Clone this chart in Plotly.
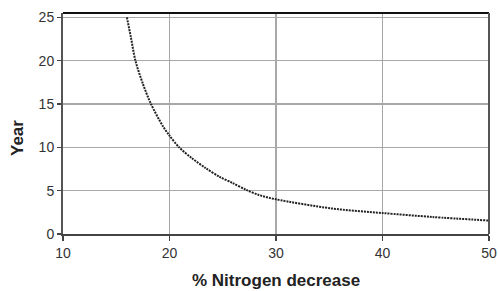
import plotly.graph_objects as go

nitrogen_decrease = [16.0, 16.36, 16.8, 17.48, 18.26, 19.4, 20.0, 20.9, 22.1, 23.4, 24.7, 25.9, 27.2, 28.4, 30.0, 35.2, 40.0, 44.7, 50.0]
years = [25.0, 22.8, 20.0, 17.4, 15.0, 12.4, 11.35, 10.0, 8.75, 7.6, 6.6, 5.9, 5.1, 4.5, 4.0, 2.95, 2.42, 1.96, 1.55]
x_ticks = [10, 20, 30, 40, 50]
y_ticks = [0, 5, 10, 15, 20, 25]

fig = go.Figure()
fig.add_trace(go.Scatter(
    x=nitrogen_decrease, y=years, mode="lines",
    line=dict(color="#222222", width=2, dash="2px,1px", shape="spline", smoothing=0.8),
    showlegend=False, hoverinfo="skip",
))

font_family = "Liberation Sans, Arial, sans-serif"
fig.update_layout(
    width=498, height=291,
    margin=dict(l=63, r=9, t=13, b=57, autoexpand=False),
    paper_bgcolor="white", plot_bgcolor="white",
    font=dict(family=font_family, size=14, color="#333333"),
    xaxis=dict(
        range=[10, 50], tickvals=x_ticks, ticktext=[str(v) for v in x_ticks],
        showgrid=True, gridcolor="#a8a8a8", gridwidth=1.6,
        showline=True, linecolor="#444444", linewidth=2, mirror=False,
        ticks="outside", ticklen=5, tickcolor="#444444", tickwidth=1.5,
        zeroline=False, automargin=False,
        tickfont=dict(size=14, color="#333333"),
    ),
    yaxis=dict(
        range=[0, 25.5], tickvals=y_ticks, ticktext=[str(v) for v in y_ticks],
        showgrid=True, gridcolor="#a8a8a8", gridwidth=1.6,
        showline=True, linecolor="#555555", linewidth=2,
        ticks="outside", ticklen=4, tickcolor="#444444", tickwidth=1.5,
        zeroline=False, automargin=False,
        tickfont=dict(size=14, color="#333333"),
    ),
    shapes=[
        dict(type="line", xref="paper", yref="paper", x0=0, x1=1, y0=1, y1=1,
             line=dict(color="#111111", width=2)),
        dict(type="line", xref="paper", yref="paper", x0=1, x1=1, y0=0, y1=1,
             line=dict(color="#555555", width=2)),
    ],
    annotations=[
        dict(text="<b>% Nitrogen decrease</b>", xref="paper", yref="paper",
             x=0.5, y=-(280 - 234) / 221, xanchor="center", yanchor="middle",
             showarrow=False, font=dict(size=17, color="#222222")),
        dict(text="<b>Year</b>", xref="paper", yref="paper",
             x=-(63 - 17) / 426, y=(234 - 138) / 221, xanchor="center", yanchor="middle",
             textangle=-90, showarrow=False, font=dict(size=17, color="#222222")),
    ],
)

fig.write_html(
    "out.html",
    config={"displayModeBar": False, "staticPlot": True},
    post_script="document.body.style.margin='0';document.body.style.overflow='hidden';",
)
